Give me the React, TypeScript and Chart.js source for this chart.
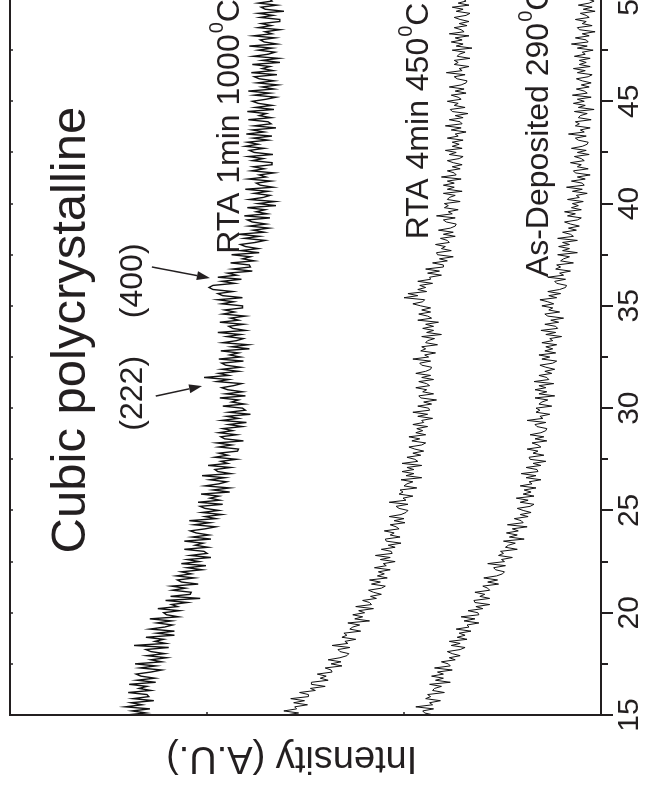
import React, { useEffect, useRef } from "react";
import { Chart, registerables } from "chart.js";
Chart.register(...registerables);

// ---- data ----
const twoThetaMin = 15;
const twoThetaMax = 50;
const twoThetaTicks = [15, 20, 25, 30, 35, 40, 45, 50];
const intensityTicks = [0, 200, 400, 600];

const rta1000Step = 0.1;
const rta1000 = [
  482,462,476,458,483,466,477,454,475,459,
  461,480,457,469,461,479,452,471,453,467,
  472,457,446,468,452,473,446,457,441,461,
  443,457,462,439,474,442,453,444,462,433,
  451,433,458,443,435,451,436,458,429,441,
  444,428,450,430,436,420,442,407,437,417,
  416,435,422,436,409,426,430,413,431,416,
  426,405,420,401,426,408,420,396,417,400,
  403,423,399,412,404,423,396,415,398,411,
  417,402,391,413,397,418,391,402,385,405,
  388,402,407,384,409,387,397,388,406,377,
  394,377,402,388,380,397,382,405,376,389,
  392,376,399,379,386,370,392,379,388,369,
  368,388,375,390,363,382,386,370,388,374,
  384,364,378,360,385,368,380,356,378,361,
  364,384,362,375,368,387,361,381,364,379,
  385,373,365,390,378,403,378,388,368,385,
  366,381,385,363,388,366,377,368,386,357,
  375,358,384,370,363,380,366,389,361,374,
  378,363,387,368,376,361,384,372,382,364,
  364,385,373,389,364,384,389,374,394,398,
  394,372,385,365,389,370,379,354,374,356,
  357,376,352,364,356,375,347,366,348,361,
  366,351,341,362,347,368,342,353,337,357,
  340,354,359,336,362,339,350,341,359,330,
  348,331,357,343,336,352,338,361,333,346,
  350,335,358,340,347,332,355,342,353,334,
  334,354,343,358,333,352,357,342,361,348,
  359,338,353,334,360,342,354,330,352,335,
  338,358,335,347,340,359,332,351,334,348,
  354,340,330,352,336,358,332,344,328,349,
  332,347,352,329,355,333,344,336,354,326,
  344,327,353,338,331,348,334,357,329,342,
  346,331,353,334,341,326,348,335,345,326,
  326,346,333,348,322,341,345,329,348,334,
  336,
];

const rta450Step = 0.1;
const rta450 = [
  320,307,322,309,311,298,312,301,315,297,
  297,306,290,295,280,294,294,277,285,279,
  288,273,274,280,263,274,264,277,265,258,
  256,265,267,255,273,257,260,249,263,258,
  261,244,255,252,245,257,235,250,242,252,
  240,246,231,249,233,235,242,228,234,223,
  231,236,223,219,233,224,235,217,227,220,
  226,214,230,218,221,209,224,214,229,212,
  213,223,209,216,203,218,219,204,214,210,
  220,205,208,214,199,210,200,215,203,198,
  196,205,208,196,215,198,201,191,205,201,
  204,187,200,197,191,203,182,198,190,202,
  190,197,182,202,186,189,197,183,191,180,
  189,195,182,178,192,184,195,178,188,181,
  187,176,191,180,182,171,186,176,191,174,
  175,186,172,180,167,183,185,170,181,177,
  188,174,177,185,170,182,173,188,178,173,
  172,182,184,173,191,175,179,168,183,178,
  182,166,178,176,169,182,162,177,170,181,
  170,178,165,186,172,176,185,173,182,173,
  183,191,181,179,200,186,196,177,186,178,
  184,171,186,173,174,162,176,164,178,160,
  160,171,156,164,150,166,167,152,162,158,
  168,154,156,163,148,160,150,165,153,148,
  147,157,160,148,167,151,155,145,159,155,
  159,143,156,154,148,160,141,156,149,160,
  149,156,142,162,147,149,156,143,151,141,
  150,156,144,140,154,147,158,141,151,144,
  151,140,156,145,148,137,152,142,158,141,
  143,154,140,148,135,151,153,138,149,145,
  156,142,145,152,137,148,139,154,142,137,
  136,146,149,138,157,141,144,134,149,145,
  149,133,146,144,138,151,131,147,140,152,
  141,148,134,154,139,142,149,136,144,134,
  143,149,137,133,147,140,151,134,145,137,
  140,
];

const asDepStep = 0.1;
const asDeposited = [
  170,179,181,170,188,171,174,163,178,173,
  176,159,171,169,162,174,153,168,160,172,
  160,166,151,169,153,155,162,148,154,143,
  151,156,143,138,152,143,154,136,146,138,
  144,132,147,134,136,124,139,128,142,124,
  125,135,120,127,113,128,129,113,123,118,
  128,113,115,120,104,115,105,119,106,100,
  98,107,109,97,115,98,101,90,104,99,
  102,85,97,94,87,99,78,93,85,96,
  84,90,75,95,79,81,88,74,82,71,
  79,85,72,68,82,74,86,68,79,71,
  78,66,82,70,73,61,76,66,81,64,
  65,76,61,69,56,72,73,58,69,64,
  75,61,64,70,55,67,58,72,61,56,
  55,65,67,56,75,59,62,52,66,62,
  66,50,63,60,54,67,47,63,55,67,
  56,63,48,68,53,55,63,50,57,47,
  56,62,49,45,60,52,63,46,57,49,
  56,45,60,49,52,40,56,46,61,44,
  46,57,43,51,38,54,57,42,53,49,
  60,48,54,62,45,53,41,54,42,36,
  35,45,47,36,54,38,42,31,46,41,
  45,28,41,38,32,44,24,39,32,43,
  32,39,24,44,28,31,39,25,33,22,
  31,37,24,20,34,26,37,20,30,23,
  29,18,34,22,25,14,29,19,35,17,
  19,30,16,24,11,26,28,13,24,20,
  31,17,20,27,12,24,15,30,19,14,
  13,23,26,15,33,17,21,11,26,22,
  26,10,23,21,14,27,7,23,16,28,
  17,24,10,29,14,17,25,12,20,10,
  19,25,13,9,24,16,28,11,22,15,
  22,11,27,16,19,8,24,14,30,13,
  15,26,12,19,6,22,24,9,19,15,
  26,12,15,21,6,18,9,23,12,7,
  14,
];

const seriesNames = ["RTA 1min 1000", "RTA 4min 450", "As-Deposited 290"];
const axisTitle = "Intensity (A.U.)";
const titleText = "Cubic polycrystalline";
const peakLabels = ["(222)", "(400)"];

// ---- layout constants (original, un-rotated chart) ----
const CANVAS_W = 836;
const CANVAS_H = 660;
const FONT = '"Liberation Sans", Arial, Helvetica, sans-serif';
const INK = "#231f20";

function toPoints(values: number[], step: number) {
  return values.map((v, i) => ({ x: +(twoThetaMin + i * step).toFixed(2), y: v }));
}

const overlayPlugin = {
  id: "overlay",
  afterDraw(chart: any) {
    const { ctx, chartArea: ca, scales } = chart;
    const xs = scales.x;
    const ys = scales.y;
    ctx.save();
    ctx.strokeStyle = INK;
    ctx.fillStyle = INK;
    ctx.lineCap = "butt";

    // frame
    ctx.lineWidth = 2;
    ctx.beginPath();
    ctx.moveTo(CANVAS_W + 10, ca.top);
    ctx.lineTo(ca.left, ca.top);
    ctx.lineTo(ca.left, ca.bottom);
    ctx.lineTo(CANVAS_W + 10, ca.bottom);
    ctx.stroke();

    // 2-theta ticks (outside bottom, inside top)
    for (let t = twoThetaMin; t <= twoThetaMax + 0.001; t += 2.5) {
      const px = Math.round(xs.getPixelForValue(t));
      const major = Math.abs(t / 5 - Math.round(t / 5)) < 1e-6;
      ctx.lineWidth = 2;
      ctx.beginPath();
      ctx.moveTo(px, ca.bottom);
      ctx.lineTo(px, ca.bottom + (major ? 12 : 7));
      ctx.stroke();
      ctx.lineWidth = 1.5;
      ctx.beginPath();
      ctx.moveTo(px, ca.top);
      ctx.lineTo(px, ca.top + 3);
      ctx.stroke();
    }
    // intensity ticks (inside)
    for (const v of intensityTicks.slice(1, -1)) {
      const py = Math.round(ys.getPixelForValue(v));
      ctx.lineWidth = 1.5;
      ctx.beginPath();
      ctx.moveTo(ca.left, py);
      ctx.lineTo(ca.left + 3, py);
      ctx.stroke();
    }

    // axis title (rotated)
    ctx.save();
    ctx.translate(ca.left - 42, ys.getPixelForValue(314));
    ctx.rotate(-Math.PI / 2);
    ctx.font = `38px ${FONT}`;
    ctx.textAlign = "center";
    ctx.textBaseline = "middle";
    ctx.fillText(axisTitle, 0, 0);
    ctx.restore();

    ctx.textAlign = "left";
    ctx.textBaseline = "alphabetic";

    const plain = (text: string, t: number, inten: number, size: number) => {
      ctx.font = `${size}px ${FONT}`;
      ctx.fillText(text, xs.getPixelForValue(t), ys.getPixelForValue(inten));
    };
    const withDegree = (text: string, t: number, inten: number, size: number) => {
      let px = xs.getPixelForValue(t);
      const py = ys.getPixelForValue(inten);
      ctx.font = `${size}px ${FONT}`;
      ctx.fillText(text, px, py);
      px += ctx.measureText(text).width;
      const small = Math.round(size * 0.62);
      ctx.font = `${small}px ${FONT}`;
      ctx.fillText("0", px + 1, py - size * 0.5);
      px += ctx.measureText("0").width + 1;
      ctx.font = `${size}px ${FONT}`;
      ctx.fillText("C", px, py);
    };

    plain(titleText, 22.9, 524, 49);
    plain(peakLabels[0], 28.9, 466, 32);
    plain(peakLabels[1], 34.4, 466, 32);
    withDegree(seriesNames[0], 37.55, 368, 32);
    withDegree(seriesNames[1], 38.25, 176, 32);
    withDegree(seriesNames[2], 36.4, 54, 32);

    const arrow = (t0: number, i0: number, t1: number, i1: number) => {
      const x0 = xs.getPixelForValue(t0), y0 = ys.getPixelForValue(i0);
      const x1 = xs.getPixelForValue(t1), y1 = ys.getPixelForValue(i1);
      const ang = Math.atan2(y1 - y0, x1 - x0);
      const L = 13, W = 4.5;
      const bx = x1 - L * Math.cos(ang), by = y1 - L * Math.sin(ang);
      ctx.lineWidth = 1.5;
      ctx.beginPath();
      ctx.moveTo(x0, y0);
      ctx.lineTo(bx, by);
      ctx.stroke();
      ctx.beginPath();
      ctx.moveTo(x1, y1);
      ctx.lineTo(bx + W * Math.sin(ang), by - W * Math.cos(ang));
      ctx.lineTo(bx - W * Math.sin(ang), by + W * Math.cos(ang));
      ctx.closePath();
      ctx.fill();
    };
    arrow(30.59, 452, 31.08, 405);
    arrow(36.9, 456, 36.36, 397);

    ctx.restore();
  },
};

export default function App() {
  const ref = useRef<HTMLCanvasElement | null>(null);
  useEffect(() => {
    if (!ref.current) return;
    const lineStyle = { borderColor: "#111", borderWidth: 1, pointRadius: 0, tension: 0, fill: false };
    const chart = new Chart(ref.current, {
      type: "line",
      data: {
        datasets: [
          { label: seriesNames[0], data: toPoints(rta1000, rta1000Step), ...lineStyle, borderWidth: 1.4 },
          { label: seriesNames[1], data: toPoints(rta450, rta450Step), ...lineStyle },
          { label: seriesNames[2], data: toPoints(asDeposited, asDepStep), ...lineStyle },
        ],
      },
      options: {
        animation: false,
        responsive: false,
        devicePixelRatio: 1,
        layout: { padding: { left: 80, right: 40, top: 10, bottom: 0 } },
        plugins: { legend: { display: false }, tooltip: { enabled: false } },
        scales: {
          x: {
            type: "linear",
            min: twoThetaMin,
            max: twoThetaMax,
            position: "bottom",
            grid: { display: false, drawTicks: false },
            border: { display: false },
            afterBuildTicks: (s: any) => {
              s.ticks = twoThetaTicks.map((v) => ({ value: v }));
            },
            ticks: {
              padding: 11,
              maxRotation: 0,
              autoSkip: false,
              color: INK,
              font: { family: FONT, size: 30, lineHeight: 1.2 },
            },
            afterFit: (s: any) => {
              s.height = 59;
            },
          },
          y: {
            type: "linear",
            display: false,
            min: intensityTicks[0],
            max: intensityTicks[intensityTicks.length - 1],
          },
        },
      },
      plugins: [overlayPlugin],
    } as any);
    return () => chart.destroy();
  }, []);

  return (
    <div
      style={{
        position: "fixed",
        left: 0,
        top: 0,
        width: 646,
        height: 801,
        overflow: "hidden",
        background: "#fff",
      }}
    >
      <div
        style={{
          position: "absolute",
          left: 0,
          top: 0,
          width: CANVAS_W,
          height: CANVAS_H,
          transformOrigin: "0 0",
          transform: "translate(0px, 795px) rotate(-90deg)",
        }}
      >
        <canvas
          ref={ref}
          width={CANVAS_W}
          height={CANVAS_H}
          style={{ display: "block", width: CANVAS_W, height: CANVAS_H }}
        />
      </div>
    </div>
  );
}
